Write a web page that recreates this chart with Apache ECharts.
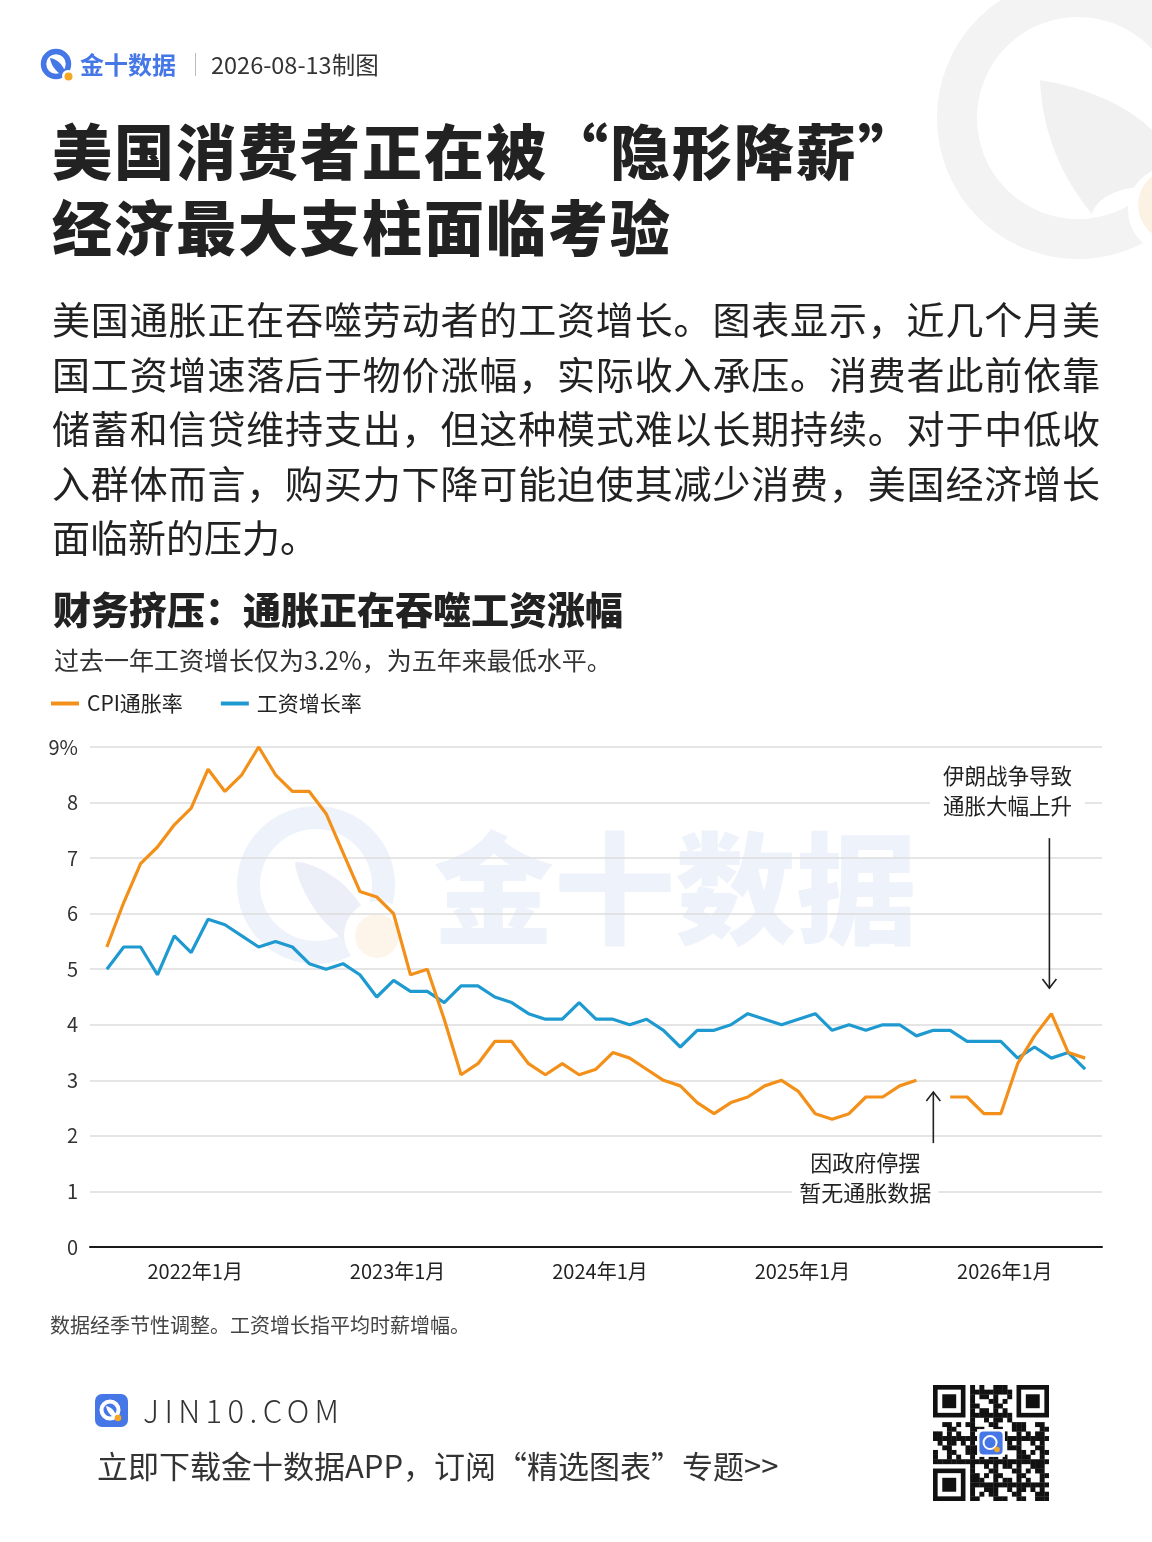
<!DOCTYPE html>
<html lang="zh-CN">
<head>
<meta charset="utf-8">
<script src="https://cdn.jsdelivr.net/npm/echarts@6/dist/echarts.min.js"></script>
<style>
html,body{margin:0;padding:0;background:#fff;}
body{width:1152px;height:1542px;position:relative;overflow:hidden;font-family:'Noto Sans CJK SC','Noto Sans',sans-serif;color:#222;}
.abs{position:absolute;}
#chart{position:absolute;left:0;top:0;width:1152px;height:1542px;z-index:1;}
.txt{position:absolute;z-index:2;white-space:nowrap;}
.para div{text-align:justify;text-align-last:justify;height:54.5px;line-height:54.5px;}
.para div.last{text-align-last:left;}
</style>
</head>
<body>
<svg class="abs" style="left:0;top:0;z-index:0" width="1152" height="300">
  <circle cx="1078" cy="118" r="121" fill="none" stroke="#f3f3f3" stroke-width="40"/>
  <path d="M1040,80 C1090,88 1130,108 1152,130 L1152,185 C1115,188 1097,198 1092,214 C1060,175 1042,130 1040,80 Z" fill="#f1f1f1"/>
  <circle cx="1172" cy="210" r="44" fill="#fff"/>
  <circle cx="1174" cy="205" r="36" fill="#fcf2e4"/>
</svg>

<svg class="abs" style="left:40px;top:47px;z-index:2" width="36" height="36" viewBox="0 0 36 36">
  <circle cx="16" cy="17" r="12.5" fill="none" stroke="#4677e6" stroke-width="5.5"/>
  <path d="M10,11 C17,12 22,17 25,24 L21,28 C15,23 11,18 10,11 Z" fill="#4677e6"/>
  <circle cx="28" cy="29" r="6" fill="#fff"/>
  <circle cx="28.5" cy="29.5" r="4" fill="#f5a623"/>
</svg>
<div class="txt" style="left:80px;top:49px;font-size:24px;font-weight:700;color:#4677e6;line-height:30px;">金十数据</div>
<div class="abs" style="left:195px;top:53px;width:1px;height:23px;background:#bbb;z-index:2"></div>
<div class="txt" style="left:211px;top:50px;font-size:23.5px;color:#333;line-height:28px;">2026-08-13制图</div>

<div class="txt" style="left:52px;top:111px;font-size:60px;font-weight:900;line-height:76px;letter-spacing:2px;color:#222;">美国消费者正在被“隐形降薪”<br>经济最大支柱面临考验</div>

<div class="txt para" style="left:52px;top:291px;width:1048px;font-size:38px;color:#222;">
  <div>美国通胀正在吞噬劳动者的工资增长。图表显示，近几个月美</div>
  <div>国工资增速落后于物价涨幅，实际收入承压。消费者此前依靠</div>
  <div>储蓄和信贷维持支出，但这种模式难以长期持续。对于中低收</div>
  <div>入群体而言，购买力下降可能迫使其减少消费，美国经济增长</div>
  <div class="last">面临新的压力。</div>
</div>

<div id="chart"></div>

<div class="txt" style="left:50px;top:1311px;font-size:20px;color:#444;line-height:28px;">数据经季节性调整。工资增长指平均时薪增幅。</div>

<svg class="abs" style="left:95px;top:1394px;z-index:2" width="33" height="33" viewBox="0 0 33 33">
  <rect x="0" y="0" width="33" height="33" rx="7" fill="#4677e6"/>
  <circle cx="15" cy="16" r="8.5" fill="none" stroke="#fff" stroke-width="4"/>
  <path d="M11,12 C16,13 19,16 21,21 L18,23 C14,20 12,17 11,12 Z" fill="#fff"/>
  <circle cx="23" cy="24" r="3.3" fill="#f5a623"/>
</svg>
<div class="txt" style="left:143px;top:1391px;font-size:31px;color:#333;line-height:38px;letter-spacing:5.4px;font-weight:300;">JIN10.COM</div>
<div class="txt" style="left:97px;top:1445px;font-size:31px;color:#333;line-height:40px;">立即下载金十数据APP，订阅“精选图表”专题&gt;&gt;</div>

<svg id="qr" class="abs" style="left:933px;top:1385px;z-index:2" width="116" height="116"></svg>

<script>
// ---------- data ----------
const months = [
  '2021-08','2021-09','2021-10','2021-11','2021-12',
  '2022-01','2022-02','2022-03','2022-04','2022-05','2022-06','2022-07','2022-08','2022-09','2022-10','2022-11','2022-12',
  '2023-01','2023-02','2023-03','2023-04','2023-05','2023-06','2023-07','2023-08','2023-09','2023-10','2023-11','2023-12',
  '2024-01','2024-02','2024-03','2024-04','2024-05','2024-06','2024-07','2024-08','2024-09','2024-10','2024-11','2024-12',
  '2025-01','2025-02','2025-03','2025-04','2025-05','2025-06','2025-07','2025-08','2025-09','2025-10','2025-11','2025-12',
  '2026-01','2026-02','2026-03','2026-04','2026-05','2026-06'
];
const cpiInflation = [
  5.4, 6.2, 6.9, 7.2, 7.6,
  7.9, 8.6, 8.2, 8.5, 9.0, 8.5, 8.2, 8.2, 7.8, 7.1, 6.4, 6.3,
  6.0, 4.9, 5.0, 4.1, 3.1, 3.3, 3.7, 3.7, 3.3, 3.1, 3.3, 3.1,
  3.2, 3.5, 3.4, 3.2, 3.0, 2.9, 2.6, 2.4, 2.6, 2.7, 2.9, 3.0,
  2.8, 2.4, 2.3, 2.4, 2.7, 2.7, 2.9, 3.0, null, 2.7, 2.7, 2.4,
  2.4, 3.3, 3.8, 4.2, 3.5, 3.4
];
const wageGrowth = [
  5.0, 5.4, 5.4, 4.9, 5.6,
  5.3, 5.9, 5.8, 5.6, 5.4, 5.5, 5.4, 5.1, 5.0, 5.1, 4.9, 4.5,
  4.8, 4.6, 4.6, 4.4, 4.7, 4.7, 4.5, 4.4, 4.2, 4.1, 4.1, 4.4,
  4.1, 4.1, 4.0, 4.1, 3.9, 3.6, 3.9, 3.9, 4.0, 4.2, 4.1, 4.0,
  4.1, 4.2, 3.9, 4.0, 3.9, 4.0, 4.0, 3.8, 3.9, 3.9, 3.7, 3.7,
  3.7, 3.4, 3.6, 3.4, 3.5, 3.2
];
const tickMonths = ['2022-01','2023-01','2024-01','2025-01','2026-01'];
const tickLabels = ['2022年1月','2023年1月','2024年1月','2025年1月','2026年1月'];
const yTicks = [0,1,2,3,4,5,6,7,8,9];
const seriesNames = ['CPI通胀率','工资增长率'];
const chartTitle = '财务挤压：通胀正在吞噬工资涨幅';
const chartSubtitle = '过去一年工资增长仅为3.2%，为五年来最低水平。';
const noteIran = '伊朗战争导致\n通胀大幅上升';
const noteShutdown = '因政府停摆\n暂无通胀数据';

// ---------- chart ----------
const FONT = "'Noto Sans CJK SC','Noto Sans',sans-serif";
const ORANGE = '#F39019';
const BLUE = '#1E9AD0';
const chart = echarts.init(document.getElementById('chart'), null, {renderer:'canvas'});
const tickIdx = tickMonths.map(m => months.indexOf(m));

const option = {
  animation: false,
  textStyle: {fontFamily: FONT},
  title: [
    {text: chartTitle, left: 53, top: 591, padding: 0,
     textStyle: {fontSize: 38, fontWeight: 900, color: '#222', fontFamily: FONT}},
    {text: chartSubtitle, left: 54, top: 648, padding: 0,
     textStyle: {fontSize: 25, fontWeight: 400, color: '#333', fontFamily: FONT}}
  ],
  legend: {
    left: 51, top: 693, padding: 0, itemWidth: 28, itemHeight: 4, itemGap: 38, icon: 'rect',
    textStyle: {fontSize: 21, color: '#222', fontFamily: FONT, padding: [0,0,0,3]},
    data: seriesNames
  },
  grid: {left: 90, right: 50, top: 747, bottom: 295},
  xAxis: {
    type: 'value', min: -1, max: months.length,
    axisLine: {show: true, onZero: true, lineStyle: {color: '#1a1a1a', width: 2}},
    axisTick: {show: false},
    splitLine: {show: false},
    axisLabel: {
      customValues: tickIdx,
      formatter: v => tickLabels[tickIdx.indexOf(Math.round(v))] || '',
      fontSize: 20, color: '#222', margin: 14, fontFamily: FONT, padding: [0, 0, 0, 8]
    }
  },
  yAxis: {
    type: 'value', min: yTicks[0], max: yTicks[yTicks.length-1], interval: 1,
    axisLine: {show: false}, axisTick: {show: false},
    splitLine: {lineStyle: {color: '#dddddd', width: 1.5}},
    axisLabel: {formatter: v => v === 9 ? '9%' : String(v), fontSize: 20, color: '#333', margin: 12, fontFamily: FONT}
  },
  series: [
    {name: seriesNames[0], type: 'line', z: 4, symbol: 'none', showSymbol: false, connectNulls: false,
     data: months.map((m,i) => [i, cpiInflation[i]]),
     lineStyle: {width: 3.2, color: ORANGE}, itemStyle: {color: ORANGE}},
    {name: seriesNames[1], type: 'line', z: 3, symbol: 'none', showSymbol: false,
     data: months.map((m,i) => [i, wageGrowth[i]]),
     lineStyle: {width: 3.2, color: BLUE}, itemStyle: {color: BLUE}}
  ]
};
chart.setOption(option);

// annotations anchored to data coordinates
const P = (x, y) => chart.convertToPixel({gridIndex: 0}, [x, y]);
const iranIdx = months.indexOf('2026-04');
const gapIdx = months.indexOf('2025-09');
const a1Top = P(iranIdx, 7.36), a1Tip = P(iranIdx, 4.66);
const a2Bot = P(gapIdx, 1.87), a2Tip = P(gapIdx, 2.79);
const t1 = P(iranIdx, 8.22), t2 = P(gapIdx, 1.24);
const stroke = {stroke: '#222', lineWidth: 1.6, fill: null};
const ax1 = a1Top[0] - 2;

const graphics = [
  // faint watermark
  {type: 'ring', z: -10, silent: true, shape: {cx: 316, cy: 885, r: 79, r0: 56}, style: {fill: '#eef2fb'}},
  {type: 'polygon', z: -10, silent: true, shape: {points: [[296,862],[318,868],[338,880],[355,897],[367,915],[374,928],[352,946],[335,932],[318,914],[305,893],[298,876]], smooth: 0.3}, style: {fill: '#eceff7'}},
  {type: 'circle', z: -9, silent: true, shape: {cx: 378, cy: 935, r: 34}, style: {fill: '#ffffff'}},
  {type: 'circle', z: -9, silent: true, shape: {cx: 377, cy: 936, r: 22}, style: {fill: '#fdf5ea'}},
  {type: 'text', z: -10, silent: true, style: {text: '金十数据', x: 433, y: 888, font: '900 121px ' + FONT, fill: '#eef2fb', verticalAlign: 'middle', align: 'left'}},
  // arrow 1 (pointing down)
  {type: 'line', z: 100, shape: {x1: ax1, y1: a1Top[1], x2: ax1, y2: a1Tip[1]}, style: stroke},
  {type: 'polyline', z: 100, shape: {points: [[ax1-7, a1Tip[1]-9], [ax1, a1Tip[1]], [ax1+7, a1Tip[1]-9]]}, style: stroke},
  // arrow 2 (pointing up)
  {type: 'line', z: 100, shape: {x1: a2Bot[0], y1: a2Bot[1], x2: a2Tip[0], y2: a2Tip[1]}, style: stroke},
  {type: 'polyline', z: 100, shape: {points: [[a2Tip[0]-7, a2Tip[1]+9], [a2Tip[0], a2Tip[1]], [a2Tip[0]+7, a2Tip[1]+9]]}, style: stroke},
  // notes
  {type: 'text', z: 100, style: {text: noteIran, x: ax1 - 42, y: t1[1], font: '21.5px ' + FONT, fill: '#222', align: 'center', verticalAlign: 'middle', lineHeight: 30, backgroundColor: '#fff', padding: [2, 13]}},
  {type: 'text', z: 100, style: {text: noteShutdown, x: t2[0] - 68, y: t2[1], font: '22px ' + FONT, fill: '#222', align: 'center', verticalAlign: 'middle', lineHeight: 30, backgroundColor: '#fff', padding: [2, 7]}}
];
chart.setOption({graphic: {elements: graphics}});

// decorative QR-like block
(function(){
  const svg = document.getElementById('qr');
  const N = 25, s = 116 / N;
  let html = '<rect width="116" height="116" fill="#fff"/>';
  const finder = (cx, cy) => {
    html += `<rect x="${cx*s}" y="${cy*s}" width="${7*s}" height="${7*s}" fill="#111"/>`;
    html += `<rect x="${(cx+1)*s}" y="${(cy+1)*s}" width="${5*s}" height="${5*s}" fill="#fff"/>`;
    html += `<rect x="${(cx+2)*s}" y="${(cy+2)*s}" width="${3*s}" height="${3*s}" fill="#111"/>`;
  };
  const inFinder = (i, j) => (i < 8 && j < 8) || (i > 16 && j < 8) || (i < 8 && j > 16);
  for (let j = 0; j < N; j++) for (let i = 0; i < N; i++) {
    if (inFinder(i, j)) continue;
    if ((i*7 + j*11 + i*j*3) % 5 < 2 || (i + 2*j) % 7 === 0) html += `<rect x="${i*s}" y="${j*s}" width="${s+0.3}" height="${s+0.3}" fill="#111"/>`;
  }
  finder(0,0); finder(18,0); finder(0,18);
  html += `<rect x="${9.5*s}" y="${9.5*s}" width="${6*s}" height="${6*s}" fill="#fff"/>`;
  html += `<rect x="${10*s}" y="${10*s}" width="${5*s}" height="${5*s}" rx="4" fill="#4677e6"/>`;
  html += `<circle cx="${12.3*s}" cy="${12.4*s}" r="${1.4*s}" fill="none" stroke="#fff" stroke-width="2"/>`;
  html += `<circle cx="${13.8*s}" cy="${13.9*s}" r="${0.6*s}" fill="#f5a623"/>`;
  svg.innerHTML = html;
})();
</script>
</body>
</html>
